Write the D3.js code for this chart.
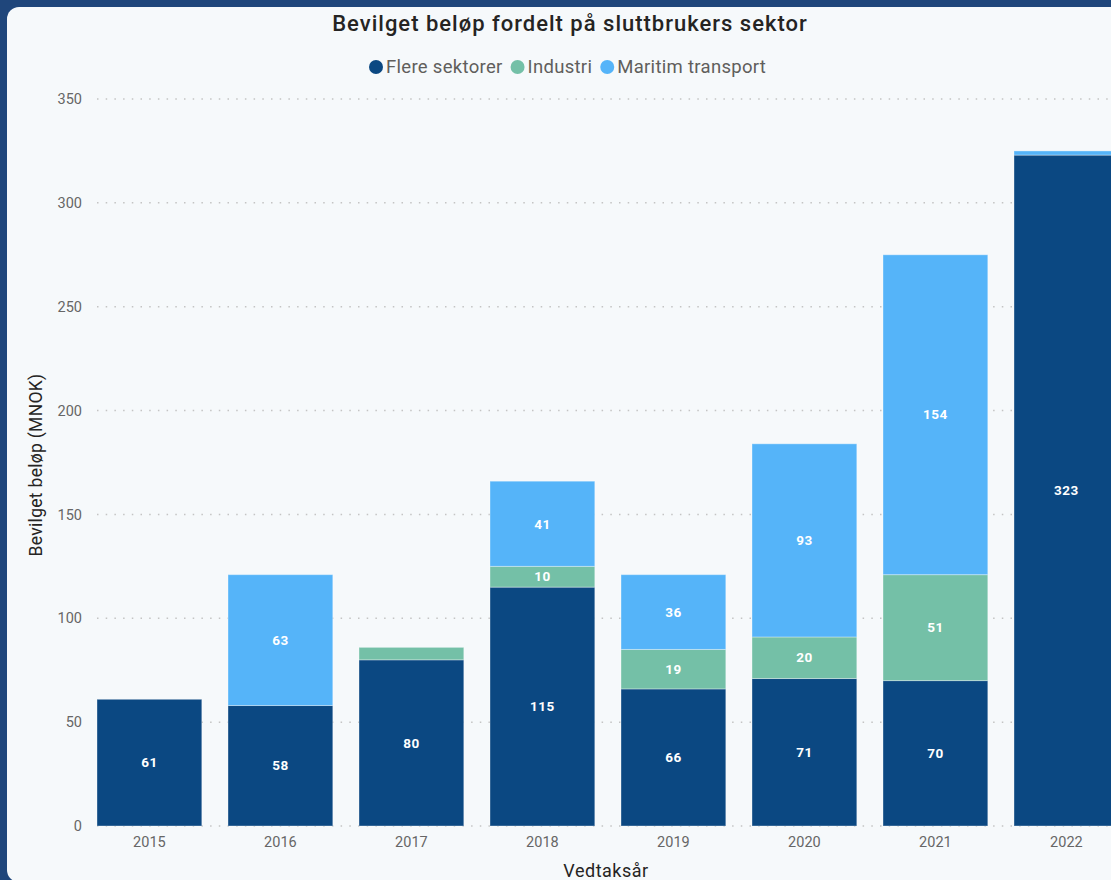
<!DOCTYPE html>
<html><head><meta charset="utf-8">
<script src="https://cdn.jsdelivr.net/npm/d3@7"></script>
<style>
html,body{margin:0;padding:0;background:#1f467b;overflow:hidden;}
svg{display:block;}
</style></head>
<body>
<svg id="c" width="1111" height="880"></svg>
<script>
const years = ["2015","2016","2017","2018","2019","2020","2021","2022"];
const flereSektorer = [61, 58, 80, 115, 66, 71, 70, 323];
const industri = [0, 0, 6, 10, 19, 20, 51, 0];
const maritimTransport = [0, 63, 0, 41, 36, 93, 154, 2];
const seriesNames = ["Flere sektorer", "Industri", "Maritim transport"];
const colors = ["#0b4882", "#74c0a7", "#55b4f9"];
const yTicks = [0, 50, 100, 150, 200, 250, 300, 350];

const rows = years.map((y, i) => ({year: y, "Flere sektorer": flereSektorer[i], "Industri": industri[i], "Maritim transport": maritimTransport[i]}));

const svg = d3.select("#c");
svg.append("rect").attr("x", 7).attr("y", 7).attr("width", 1130).attr("height", 875).attr("rx", 12).attr("fill", "#f6f9fb");

const font = "Roboto, 'Noto Sans', sans-serif";
const x = d3.scaleBand().domain(years).range([97, 1118.8]).paddingInner(0.2).paddingOuter(0);
const y = d3.scaleLinear().domain([0, 350]).range([826, 99]);

// gridlines
svg.append("g").selectAll("line").data(yTicks).join("line")
  .attr("x1", 97).attr("x2", 1111).attr("y1", d => y(d)).attr("y2", d => y(d))
  .attr("stroke", "#c4c4c4").attr("stroke-width", 1.5).attr("stroke-dasharray", "1.5,7.2");

// y axis labels
const yAxis = svg.append("g").attr("transform", "translate(82,0)")
  .call(d3.axisLeft(y).tickValues(yTicks).tickSize(0).tickPadding(0));
yAxis.select(".domain").remove();
yAxis.selectAll("text").attr("font-family", font).attr("font-size", 14.5).attr("fill", "#666");

// x axis labels
const xAxis = svg.append("g").attr("transform", "translate(0,837)")
  .call(d3.axisBottom(x).tickSize(0).tickPadding(0));
xAxis.select(".domain").remove();
xAxis.selectAll("text").attr("font-family", font).attr("font-size", 14.5).attr("fill", "#666").attr("dy", "0.71em");

const stack = d3.stack().keys(seriesNames)(rows);
const g = svg.append("g");
stack.forEach((s, si) => {
  g.append("g").selectAll("rect").data(s).join("rect")
    .attr("x", d => x(d.data.year)).attr("width", x.bandwidth())
    .attr("y", d => y(d[1])).attr("height", d => y(d[0]) - y(d[1]))
    .attr("fill", colors[si])
    .attr("stroke", "rgba(255,255,255,0.35)").attr("stroke-width", d => d[1] - d[0] > 0 ? 1 : 0);
  g.append("g").selectAll("text").data(s.filter(d => d[1] - d[0] >= 10)).join("text")
    .attr("x", d => x(d.data.year) + x.bandwidth() / 2)
    .attr("y", d => (y(d[0]) + y(d[1])) / 2)
    .attr("dy", "0.35em").attr("text-anchor", "middle")
    .attr("font-family", font).attr("font-size", 13.5).attr("font-weight", 700).attr("fill", "#fff")
    .attr("letter-spacing", 0.5)
    .text(d => d[1] - d[0]);
});

// title
svg.append("text").attr("x", 570).attr("y", 31).attr("text-anchor", "middle")
  .attr("font-family", font).attr("font-size", 22).attr("font-weight", 500).attr("fill", "#252423")
  .attr("letter-spacing", 1.0)
  .text("Bevilget beløp fordelt på sluttbrukers sektor");

// legend
const legend = svg.append("g");
let lx = 369;
seriesNames.forEach((n, i) => {
  const item = legend.append("g");
  item.append("circle").attr("cx", lx + 7).attr("cy", 67).attr("r", 7).attr("fill", colors[i]);
  const t = item.append("text").attr("x", lx + 17).attr("y", 67).attr("dy", "0.35em")
    .attr("font-family", font).attr("font-size", 18.5).attr("fill", "#605e5c").attr("letter-spacing", 0.3).text(n);
  lx += 17 + t.node().getComputedTextLength() + 8;
});

// axis titles
svg.append("text").attr("transform", "translate(42,465) rotate(-90)").attr("text-anchor", "middle")
  .attr("font-family", font).attr("font-size", 17.5).attr("fill", "#252423").attr("letter-spacing", 0.3)
  .text("Bevilget beløp (MNOK)");
svg.append("text").attr("x", 606).attr("y", 877).attr("text-anchor", "middle")
  .attr("font-family", font).attr("font-size", 18).attr("fill", "#252423").attr("letter-spacing", 0.5)
  .text("Vedtaksår");
</script>
</body></html>
